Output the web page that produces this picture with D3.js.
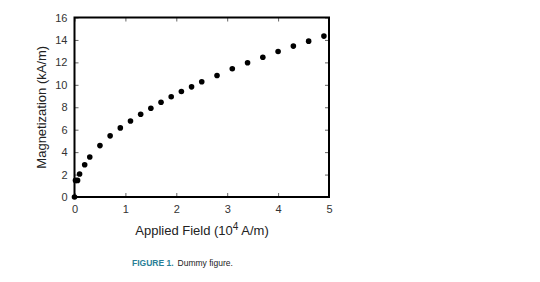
<!DOCTYPE html>
<html>
<head>
<meta charset="utf-8">
<script src="https://cdn.jsdelivr.net/npm/d3@7"></script>
<style>
  body { margin: 0; background: #fff; }
  svg text { font-family: "Liberation Sans", Arial, sans-serif; }
</style>
</head>
<body>
<svg width="540" height="282"></svg>
<script>
// applied field (10^4 A/m) and magnetization (kA/m)
var field = [0, 0.02, 0.06, 0.1, 0.2, 0.3, 0.5, 0.7, 0.9, 1.1, 1.3, 1.5, 1.7, 1.9, 2.1, 2.3, 2.5, 2.8, 3.1, 3.4, 3.7, 4.0, 4.3, 4.6, 4.9];
var magnetization = [0, 1.48, 1.48, 2.05, 2.88, 3.57, 4.58, 5.45, 6.16, 6.78, 7.38, 7.91, 8.45, 8.93, 9.4, 9.82, 10.27, 10.83, 11.43, 11.96, 12.46, 12.97, 13.45, 13.89, 14.34];
var xTicks = [0, 1, 2, 3, 4, 5];
var yTicks = [0, 2, 4, 6, 8, 10, 12, 14, 16];

var svg = d3.select("svg");
// note: "top" is taken by window.top, so use plot* names
var plotLeft = 74.5, plotRight = 329, plotTop = 17.5, plotBottom = 197;

var x = d3.scaleLinear().domain([0, 5]).range([plotLeft, plotRight]);
var y = d3.scaleLinear().domain([0, 16]).range([plotBottom, plotTop]);

// inner ticks on all four sides
svg.append("g").attr("transform", "translate(0," + plotBottom + ")")
  .call(d3.axisBottom(x).tickValues(xTicks).tickSize(-4).tickPadding(8).tickFormat(d3.format("d")))
  .call(function(g) { g.select(".domain").remove(); });
svg.append("g").attr("transform", "translate(0," + plotTop + ")")
  .call(d3.axisTop(x).tickValues(xTicks).tickSize(-4).tickFormat(""))
  .call(function(g) { g.select(".domain").remove(); });
svg.append("g").attr("transform", "translate(" + plotLeft + ",0)")
  .call(d3.axisLeft(y).tickValues(yTicks).tickSize(-4).tickPadding(7).tickFormat(d3.format("d")))
  .call(function(g) { g.select(".domain").remove(); });
svg.append("g").attr("transform", "translate(" + plotRight + ",0)")
  .call(d3.axisRight(y).tickValues(yTicks).tickSize(-4).tickFormat(""))
  .call(function(g) { g.select(".domain").remove(); });

svg.selectAll(".tick text").attr("font-size", 11).attr("fill", "#333").style("font-family", "'Liberation Sans', Arial, sans-serif");
svg.selectAll(".tick line").attr("stroke", "#666");

svg.append("rect")
  .attr("x", plotLeft).attr("y", plotTop)
  .attr("width", plotRight - plotLeft).attr("height", plotBottom - plotTop)
  .attr("fill", "none").attr("stroke", "#000").attr("stroke-width", 2);

svg.append("g").selectAll("circle")
  .data(field)
  .enter().append("circle")
  .attr("cx", function(d) { return x(d); })
  .attr("cy", function(d, i) { return y(magnetization[i]); })
  .attr("r", 2.8)
  .attr("fill", "#000");

svg.append("text")
  .attr("transform", "translate(46," + (plotTop + plotBottom) / 2 + ") rotate(-90)")
  .attr("text-anchor", "middle")
  .attr("font-size", 13)
  .attr("fill", "#222")
  .text("Magnetization (kA/m)");

var xl = svg.append("text")
  .attr("x", 202).attr("y", 235)
  .attr("text-anchor", "middle")
  .attr("font-size", 13)
  .attr("fill", "#222");
xl.append("tspan").text("Applied Field (10");
xl.append("tspan").attr("dy", -5).attr("font-size", 10).text("4");
xl.append("tspan").attr("dy", 5).text(" A/m)");

var cap = svg.append("text")
  .attr("x", 132).attr("y", 266)
  .attr("font-size", 8.5);
cap.append("tspan").attr("fill", "#2a7f97").attr("font-weight", "bold").text("FIGURE 1.");
cap.append("tspan").attr("fill", "#222").attr("dx", 4).text("Dummy figure.");
</script>
</body>
</html>
